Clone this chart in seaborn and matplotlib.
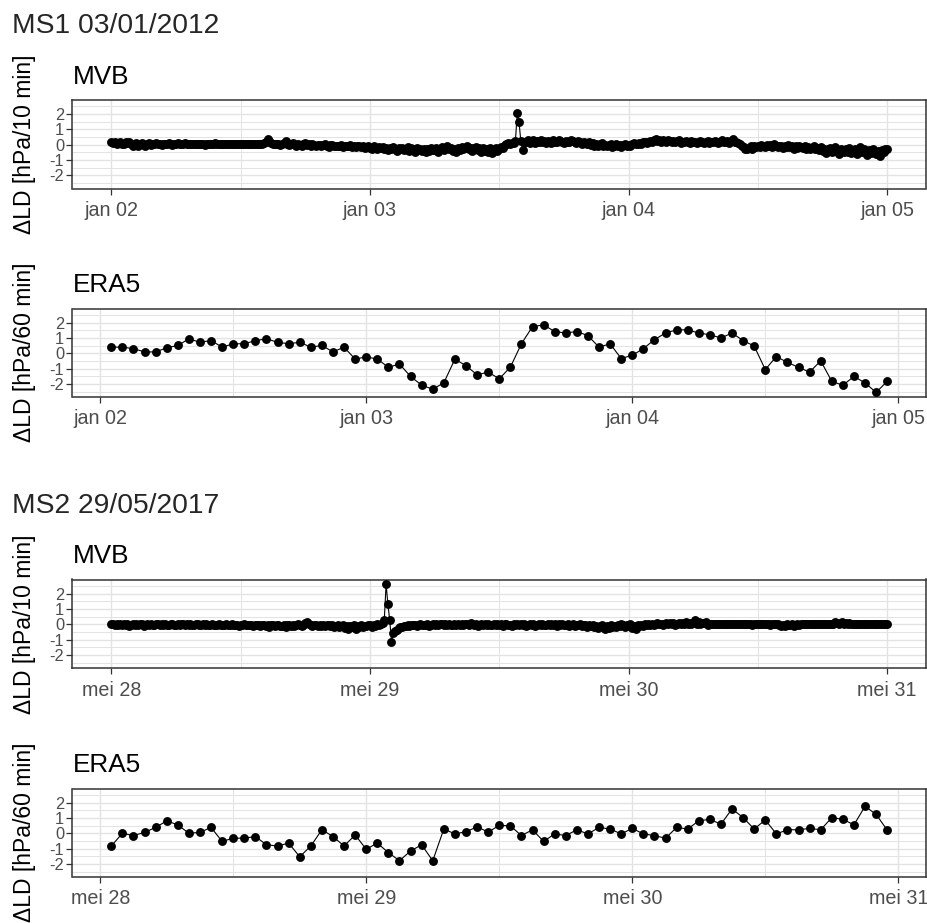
import matplotlib
matplotlib.use("Agg")
import matplotlib.pyplot as plt
import matplotlib.dates as mdates
from matplotlib.ticker import MultipleLocator, FuncFormatter
import pandas as pd
import seaborn as sns

# ---------------- data ----------------
ms1_title = "MS1 03/01/2012"
ms2_title = "MS2 29/05/2017"
ms1_start = "2012-01-02 00:00"
ms2_start = "2017-05-28 00:00"
era5_first_offset = "1h"
mvb_freq = "10min"
era5_freq = "60min"
mvb_label = "ΔLD [hPa/10 min]"
era5_label = "ΔLD [hPa/60 min]"
month_names_nl = ["jan", "feb", "mrt", "apr", "mei", "jun",
                  "jul", "aug", "sep", "okt", "nov", "dec"]

ms1_mvb = [
    0.15, 0.10, 0.20, 0.05, 0.12, 0.18,
    0.08, 0.02, 0.15, 0.10, 0.20, 0.05,
    -0.05, 0.08, 0.12, -0.10, 0.05, 0.10,
    0.00, -0.08, 0.05, 0.10, -0.02, 0.04,
    0.06, 0.10, 0.02, 0.08, 0.00, 0.05,
    0.03, 0.08, 0.10, 0.04, -0.02, 0.06,
    0.05, 0.10, 0.08, 0.02, 0.06, 0.09,
    0.04, 0.07, 0.02, 0.08, 0.05, 0.03,
    0.06, 0.02, 0.08, 0.05, 0.01, 0.07,
    0.04, 0.08, 0.03, 0.06, 0.09, 0.02,
    0.05, 0.08, 0.03, 0.06, 0.04, 0.07,
    0.02, 0.06, 0.08, 0.03, 0.05, 0.04,
    0.06, 0.03, 0.07, 0.02, 0.05, 0.08,
    0.04, 0.06, 0.02, 0.05, 0.07, 0.03,
    0.05, 0.10, 0.20, 0.35, 0.25, 0.10,
    0.05, 0.02, 0.08, 0.04, 0.00, 0.06,
    0.10, 0.22, 0.05, 0.00, 0.08, 0.12,
    0.02, -0.05, 0.06, 0.00, -0.08, 0.04,
    0.10, -0.02, 0.02, -0.06, 0.03, -0.04,
    -0.10, -0.02, 0.00, -0.08, -0.04, 0.02,
    -0.06, -0.12, -0.04, 0.00, -0.08, -0.10,
    -0.05, -0.10, -0.02, -0.12, -0.06, -0.08,
    -0.10, -0.04, -0.12, -0.08, -0.14, -0.06,
    -0.10, -0.15, -0.08, -0.20, -0.12, -0.10,
    -0.18, -0.25, -0.10, -0.20, -0.30, -0.15,
    -0.22, -0.12, -0.28, -0.18, -0.35, -0.20,
    -0.30, -0.15, -0.25, -0.40, -0.20, -0.28,
    -0.18, -0.32, -0.25, -0.15, -0.38, -0.22,
    -0.30, -0.45, -0.20, -0.35, -0.28, -0.42,
    -0.25, -0.50, -0.30, -0.40, -0.22, -0.35,
    -0.35, -0.20, -0.45, -0.25, -0.12, -0.32,
    -0.22, -0.08, -0.30, -0.18, -0.40, -0.25,
    -0.50, -0.20, -0.35, -0.12, -0.28, -0.22,
    -0.08, -0.28, -0.18, -0.38, -0.22, -0.12,
    -0.32, -0.18, -0.48, -0.22, -0.38, -0.28,
    -0.45, -0.22, -0.55, -0.32, -0.18, -0.38,
    -0.28, -0.12, -0.22, -0.02, 0.05, 0.10,
    0.08, 0.12, 0.10, 0.25, 2.04, 1.50,
    0.25, -0.35, 0.20, 0.15, 0.30, 0.10,
    0.20, 0.28, 0.12, 0.25, 0.18, 0.30,
    0.15, 0.22, 0.10, 0.25, 0.18, 0.12,
    0.28, 0.20, 0.15, 0.30, 0.22, 0.18,
    0.12, 0.25, 0.20, 0.15, 0.28, 0.22,
    0.18, 0.10, 0.22, 0.15, 0.08, 0.20,
    0.12, 0.05, 0.15, 0.00, 0.10, -0.05,
    0.05, -0.08, 0.02, 0.10, -0.05, 0.00,
    -0.10, -0.02, 0.05, -0.15, -0.05, 0.02,
    -0.08, 0.00, -0.12, -0.04, 0.04, -0.06,
    0.00, -0.05, 0.05, 0.10, 0.02, 0.08,
    0.12, 0.05, 0.15, 0.20, 0.10, 0.18,
    0.25, 0.15, 0.30, 0.38, 0.22, 0.28,
    0.20, 0.30, 0.25, 0.15, 0.28, 0.22,
    0.18, 0.25, 0.15, 0.22, 0.28, 0.12,
    0.20, 0.15, 0.25, 0.18, 0.10, 0.22,
    0.15, 0.20, 0.12, 0.18, 0.25, 0.15,
    0.10, 0.18, 0.22, 0.12, 0.15, 0.20,
    0.25, 0.15, 0.10, 0.20, 0.28, 0.15,
    0.18, 0.22, 0.12, 0.25, 0.35, 0.20,
    0.15, 0.10, 0.05, -0.05, -0.15, -0.25,
    -0.30, -0.20, -0.10, -0.25, -0.05, -0.15,
    -0.08, -0.12, 0.00, -0.05, -0.15, -0.02,
    -0.10, -0.04, -0.12, 0.02, -0.08, -0.15,
    -0.05, -0.10, -0.20, -0.06, -0.12, 0.00,
    -0.15, -0.08, -0.25, -0.10, -0.18, -0.05,
    -0.12, -0.20, -0.08, -0.25, -0.15, -0.30,
    -0.18, -0.10, -0.28, -0.20, -0.35, -0.15,
    -0.40, -0.25, -0.55, -0.30, -0.20, -0.45,
    -0.30, -0.15, -0.40, -0.60, -0.25, -0.35,
    -0.50, -0.30, -0.45, -0.20, -0.55, -0.35,
    -0.25, -0.60, -0.40, -0.15, -0.50, -0.30,
    -0.45, -0.65, -0.35, -0.55, -0.28, -0.48,
    -0.60, -0.40, -0.70, -0.35, -0.50, -0.25,
    -0.30,
]

ms1_era5 = [
    0.40, 0.40, 0.30, 0.09, 0.09, 0.36, 0.51, 0.94, 0.72, 0.83,
    0.40, 0.62, 0.62, 0.83, 0.94, 0.72, 0.62, 0.72, 0.40, 0.51,
    0.09, 0.40, -0.38, -0.23, -0.38, -0.91, -0.70, -1.51, -2.08, -2.34,
    -1.93, -0.38, -0.81, -1.40, -1.23, -1.66, -0.91, 0.62, 1.74, 1.85,
    1.42, 1.32, 1.42, 1.15, 0.40, 0.62, -0.34, -0.13, 0.30, 0.89,
    1.32, 1.53, 1.53, 1.32, 1.21, 1.00, 1.32, 0.83, 0.47, -1.06,
    -0.21, -0.60, -0.91, -1.23, -0.49, -1.83, -2.08, -1.51, -1.93, -2.55,
    -1.83,
]

ms2_mvb = [
    0.00, 0.02, -0.02, 0.01, -0.03, 0.00,
    -0.05, 0.01, -0.02, 0.00, -0.08, -0.03,
    0.00, -0.02, 0.01, -0.04, -0.01, 0.00,
    -0.10, -0.02, 0.00, -0.03, 0.01, -0.06,
    -0.02, 0.00, -0.01, -0.03, 0.01, -0.02,
    0.00, -0.04, -0.02, 0.00, -0.01, -0.03,
    -0.02, 0.01, -0.03, -0.01, 0.00, -0.02,
    -0.01, -0.03, 0.00, -0.02, -0.04, -0.01,
    0.00, -0.02, -0.05, -0.01, -0.03, 0.00,
    -0.02, -0.04, -0.01, -0.06, -0.02, -0.03,
    -0.01, -0.03, -0.05, -0.02, 0.00, -0.04,
    -0.03, -0.01, -0.06, -0.02, -0.04, -0.08,
    -0.02, -0.05, -0.01, -0.03, -0.06, -0.02,
    -0.04, -0.10, -0.02, -0.06, -0.03, -0.12,
    -0.05, -0.02, -0.08, -0.04, -0.15, -0.06,
    -0.03, -0.10, -0.05, -0.02, -0.08, -0.12,
    -0.04, -0.15, -0.06, -0.02, -0.10, -0.05,
    -0.08, -0.03, 0.05, -0.06, -0.12, -0.02,
    0.10, 0.15, 0.05, -0.05, -0.10, -0.03,
    -0.06, -0.12, -0.02, -0.08, -0.04, -0.10,
    -0.03, -0.07, -0.12, -0.05, -0.15, -0.08,
    -0.04, -0.20, -0.10, -0.06, -0.25, -0.12,
    -0.30, -0.08, -0.18, -0.05, -0.28, -0.10,
    -0.15, -0.05, -0.20, -0.08, -0.12, -0.03,
    -0.06, -0.15, -0.02, -0.08, 0.02, -0.05,
    0.00, 0.10, 0.30, 2.63, 1.30, 0.30,
    -1.15, -0.60, -0.45, -0.35, -0.25, -0.20,
    -0.15, -0.08, -0.12, -0.05, -0.10, -0.02,
    -0.06, -0.03, -0.10, -0.04, 0.00, -0.07,
    -0.02, -0.05, 0.02, -0.08, -0.03, 0.00,
    -0.04, 0.02, -0.06, -0.01, 0.03, -0.05,
    0.00, -0.03, 0.05, -0.02, -0.06, 0.01,
    -0.03, 0.04, -0.02, 0.00, -0.05, 0.02,
    0.05, -0.02, 0.08, 0.00, -0.04, 0.03,
    -0.08, -0.02, 0.04, -0.05, 0.00, -0.03,
    0.02, -0.06, -0.02, 0.05, -0.04, 0.00,
    -0.03, 0.03, -0.08, -0.01, 0.02, -0.05,
    -0.02, -0.10, 0.00, -0.04, 0.03, -0.06,
    -0.01, -0.05, 0.04, -0.08, -0.02, 0.01,
    -0.04, 0.02, -0.10, -0.03, 0.00, -0.06,
    0.03, -0.02, -0.07, 0.01, -0.04, 0.00,
    -0.05, 0.02, -0.08, -0.01, -0.04, 0.03,
    -0.02, -0.06, 0.00, -0.10, -0.03, 0.02,
    -0.08, -0.02, -0.05, 0.01, -0.12, -0.04,
    -0.06, -0.15, -0.02, -0.10, -0.05, -0.20,
    -0.08, -0.25, -0.12, -0.05, -0.18, -0.30,
    -0.10, -0.22, -0.05, -0.15, -0.08, -0.20,
    -0.02, -0.12, 0.03, -0.06, -0.15, -0.04,
    -0.08, 0.00, -0.25, -0.10, -0.30, -0.05,
    -0.12, -0.02, -0.08, 0.02, -0.05, 0.05,
    -0.02, 0.04, -0.06, 0.02, 0.08, 0.00,
    0.05, -0.03, 0.03, 0.10, 0.00, 0.06,
    0.02, 0.08, -0.02, 0.04, 0.10, 0.03,
    0.06, 0.00, 0.12, 0.04, 0.08, 0.02,
    0.10, 0.25, 0.05, 0.12, 0.03, 0.08,
    0.06, 0.15, -0.05, 0.02, 0.04, 0.00,
    0.02, 0.00, 0.01, -0.01, 0.02, 0.00,
    0.00, 0.01, -0.01, 0.00, 0.02, 0.01,
    0.01, 0.00, -0.01, 0.02, 0.00, -0.01,
    0.00, 0.01, 0.00, -0.02, 0.01, 0.00,
    -0.01, 0.00, 0.02, 0.00, -0.01, 0.01,
    0.00, -0.02, 0.00, 0.01, -0.01, 0.00,
    -0.05, -0.10, -0.03, -0.08, 0.00, -0.06,
    -0.02, 0.00, -0.08, -0.03, 0.00, -0.02,
    0.01, 0.00, -0.01, 0.02, 0.00, 0.01,
    0.00, 0.02, 0.00, -0.01, 0.01, 0.00,
    0.02, 0.00, 0.01, 0.03, 0.00, 0.02,
    0.05, 0.15, 0.08, 0.02, 0.10, 0.12,
    0.04, 0.10, 0.02, 0.06, 0.00, 0.03,
    0.01, 0.02, 0.00, 0.01, 0.02, 0.00,
    0.00, 0.01, 0.02, 0.00, 0.01, 0.00,
    0.02, 0.00, 0.01, 0.00, 0.01, 0.02,
    0.00,
]

ms2_era5 = [
    -0.83, 0.00, -0.15, 0.06, 0.38, 0.81, 0.55, 0.00, 0.06, 0.38,
    -0.53, -0.32, -0.32, -0.21, -0.75, -0.83, -0.64, -1.53, -0.83, 0.23,
    -0.21, -0.83, -0.11, -1.04, -0.64, -1.26, -1.79, -1.15, -0.75, -1.79,
    0.28, -0.04, 0.10, 0.42, 0.08, 0.51, 0.49, -0.15, 0.23, -0.53,
    -0.04, -0.15, 0.23, -0.04, 0.38, 0.28, -0.04, 0.32, -0.04, -0.15,
    -0.32, 0.38, 0.28, 0.81, 0.91, 0.59, 1.59, 1.02, 0.28, 0.87,
    -0.04, 0.23, 0.23, 0.32, 0.23, 1.02, 0.91, 0.55, 1.76, 1.23,
    0.21,
]

# ---------------- style ----------------
sns.set_theme(style="white")
plt.rcParams['font.family'] = ['Liberation Sans', 'DejaVu Sans']

W, H = 928, 923
fig = plt.figure(figsize=(W / 100, H / 100), dpi=100)
fig.patch.set_facecolor("white")

def series(start, values, freq, offset=None):
    t0 = pd.Timestamp(start)
    if offset is not None:
        t0 = t0 + pd.Timedelta(offset)
    t = pd.date_range(t0, periods=len(values), freq=freq)
    return pd.DataFrame({"time": t, "value": values})

def nl_date(x, pos=None):
    d = mdates.num2date(x)
    return f"{month_names_nl[d.month - 1]} {d.day:02d}"

def int_label(v, pos=None):
    return f"{int(round(v))}"

panels = [
    (series(ms1_start, ms1_mvb, mvb_freq), "MVB", mvb_label, 100.0),
    (series(ms1_start, ms1_era5, era5_freq, era5_first_offset), "ERA5", era5_label, 308.5),
    (series(ms2_start, ms2_mvb, mvb_freq), "MVB", mvb_label, 579.5),
    (series(ms2_start, ms2_era5, era5_freq, era5_first_offset), "ERA5", era5_label, 788.5),
]

left_px, right_px, h_px = 72.5, 926.0, 88.5
grid_col = "#E3E3E3"
dark = "#333333"

for df, sub, ylab, top_px in panels:
    ax = fig.add_axes([left_px / W, 1 - (top_px + h_px) / H,
                       (right_px - left_px) / W, h_px / H])
    sns.lineplot(data=df, x="time", y="value", ax=ax, color="black",
                 linewidth=0.8, marker="o", markersize=6.4,
                 markeredgewidth=0, estimator=None, zorder=3)
    tmin, tmax = df["time"].min(), df["time"].max()
    pad = (tmax - tmin) * 0.05
    ax.set_xlim(tmin - pad, tmax + pad)
    ax.set_ylim(-2.85, 2.92)
    ax.xaxis.set_major_locator(mdates.DayLocator())
    ax.xaxis.set_minor_locator(mdates.HourLocator(byhour=[12]))
    ax.xaxis.set_major_formatter(FuncFormatter(nl_date))
    ax.yaxis.set_major_locator(MultipleLocator(1))
    ax.yaxis.set_minor_locator(MultipleLocator(0.5))
    ax.yaxis.set_major_formatter(FuncFormatter(int_label))
    ax.grid(True, which="major", color=grid_col, linewidth=1.0, zorder=0)
    ax.grid(True, which="minor", color=grid_col, linewidth=0.7, zorder=0)
    ax.set_axisbelow(True)
    ax.set_facecolor("white")
    for s in ax.spines.values():
        s.set_visible(True)
        s.set_color(dark)
        s.set_linewidth(1.1)
    ax.tick_params(axis="both", which="major", direction="out", length=4,
                   width=0.9, color=dark, bottom=True, left=True)
    ax.tick_params(axis="both", which="minor", length=0)
    ax.tick_params(axis="x", labelsize=14.2, labelcolor="#4D4D4D", pad=5)
    ax.tick_params(axis="y", labelsize=11.8, labelcolor="#4D4D4D", pad=2)
    ax.set_xlabel("")
    ax.set_ylabel("")
    # subplot title
    fig.text(left_px / W, 1 - (top_px - 16.5) / H, sub, fontsize=18.8,
             color="black", ha="left", va="baseline")
    # y label centered on the panel
    fig.text(25 / W, 1 - (top_px + h_px / 2) / H, ylab, fontsize=16.5,
             rotation=90, ha="center", va="center", color="black")

fig.text(12 / W, 1 - 33.3 / H, ms1_title, fontsize=20.3, ha="left", va="baseline")
fig.text(12 / W, 1 - 513.3 / H, ms2_title, fontsize=20.3, ha="left", va="baseline")

fig.savefig("out.png", dpi=100, facecolor="white")
